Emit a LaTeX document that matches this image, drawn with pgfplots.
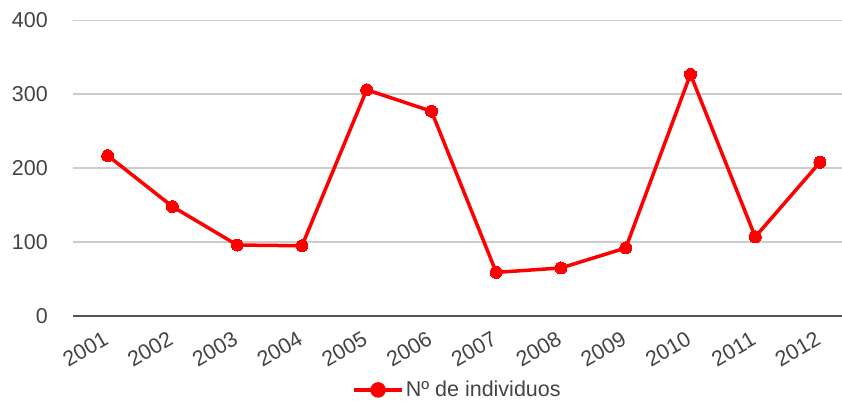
\documentclass[border=0pt]{standalone}
\usepackage{pgfplots}
\pgfplotsset{compat=1.18}
\usepackage{fontspec}
\setmainfont{Liberation Sans}
\definecolor{gridgray}{HTML}{CCCCCC}
\definecolor{zerogray}{HTML}{555555}
\definecolor{txtgray}{HTML}{444444}
\begin{document}
\begin{tikzpicture}
\begin{axis}[
  at={(0,0)}, anchor=south west,
  scale only axis,
  width=769bp, height=295.7bp,
  xmin=-0.536, xmax=11.34,
  ymin=0, ymax=400,
  ytick={0,100,200,300,400},
  xtick={0,...,11},
  xticklabels={2001,2002,2003,2004,2005,2006,2007,2008,2009,2010,2011,2012},
  axis line style={draw=none},
  major tick length=0pt,
  ymajorgrids,
  grid style={gridgray, line width=1.5bp},
  font=\fontsize{21.5bp}{25bp}\selectfont,
  /pgf/number format/assume math mode=true,
  tick label style={text=txtgray},
  yticklabel style={anchor=east, inner sep=0pt, xshift=-25bp},
  xticklabel style={rotate=30, anchor=north east, inner sep=0pt, xshift=-12bp, yshift=-10bp},
  legend style={draw=none, at={(0.5,-0.25)}, anchor=center, text=txtgray,
    font=\fontsize{21.5bp}{25bp}\selectfont},
  legend image code/.code={\draw[#1, line width=3.5bp] (0bp,0bp) -- (48bp,0bp);
    \fill[red] (24bp,0bp) circle (6bp);},
]
\draw[zerogray, line width=2bp] (axis cs:-0.536,0) -- (axis cs:11.34,0);
\addplot[color=red, line width=3.5bp, mark=*, mark size=6bp, mark options={fill=red, draw=red, line width=0pt}]
  coordinates {(0,217) (1,148) (2,96) (3,95) (4,306) (5,277) (6,59) (7,65) (8,92) (9,327) (10,107) (11,208)};
\addlegendentry{Nº de individuos}
\end{axis}
\pgfresetboundingbox
\useasboundingbox (-73bp,-86bp) rectangle (769bp,316bp);
\end{tikzpicture}
\end{document}
